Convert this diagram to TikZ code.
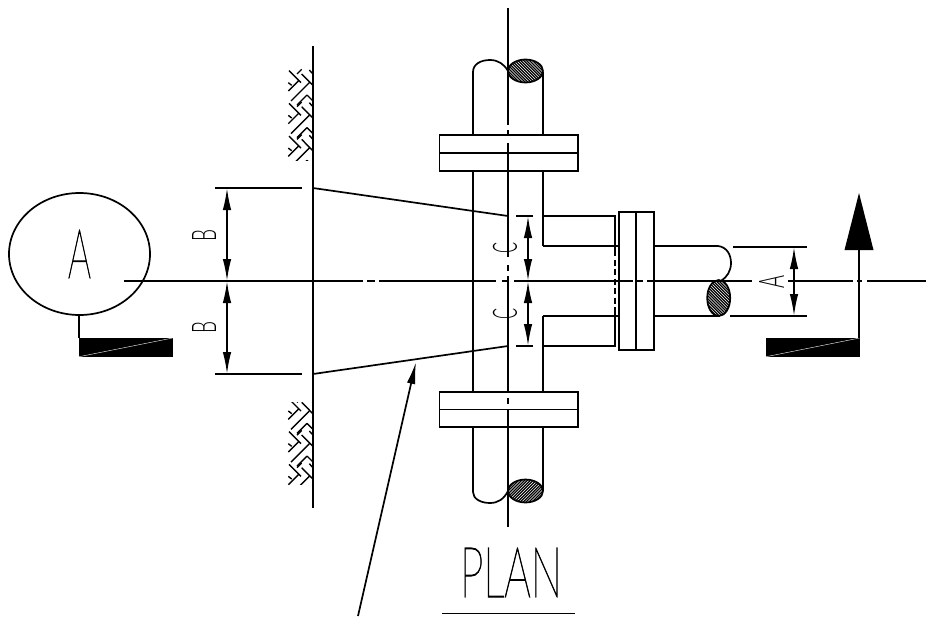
\documentclass[tikz,border=0pt]{standalone}
\usepackage{fontspec}
\usepackage{graphicx}
\usetikzlibrary{arrows.meta}
\newfontfamily\cadfont{Lato Light}
\font\cadthin="Lato Thin:embolden=1.6" at 10pt
\tikzset{
  x=1pt,y=-1pt,
  ln/.style={line width=1.7pt,line cap=butt,black},
  hat/.style={line width=1.4pt,black},
  lbl/.style={inner sep=0pt,outer sep=0pt,font=\cadthin},
  dimarrow/.style={ln,{Latex[length=22pt,width=8.5pt]}-{Latex[length=22pt,width=8.5pt]}},
  leader/.style={ln,-{Latex[length=22pt,width=8.5pt]}}
}
% one row of the herringbone earth hatch, shifted down by #1
\newcommand{\hatchrow}[1]{%
  \begin{scope}[yshift=-#1pt]
    \draw[hat] (289,70.7)--(301,82.7) (297,74)--(301.7,69.3) (309.3,70)--(313,74)
      (301.7,74)--(313,85.5) (288.3,91)--(298.8,80.5) (288.3,82.7)--(291.7,85.3)
      (291,101)--(309.85,82.15) (307,95)--(313,101) (297,105)--(307,95);
  \end{scope}}
% hatched ellipse: centre, radii, direction (+1 or -1)
\newcommand{\hatchell}[5]{%
  \begin{scope}
    \clip (#1,#2) ellipse [x radius=#3,y radius=#4];
    \foreach \k in {-14,...,14}
      \draw[line width=1.25pt] ({#1+\k*2.9-25*#5},#2-25)--({#1+\k*2.9+25*#5},#2+25);
  \end{scope}
  \draw[ln] (#1,#2) ellipse [x radius=#3,y radius=#4];}
\begin{document}
\begin{tikzpicture}
\useasboundingbox (0,0) rectangle (926,616);
\fill[white] (0,0) rectangle (926,616);

% wall
\begin{scope}
  \clip (287,68) rectangle (313,160);
  \foreach \r in {0,32.7,65.4} {\hatchrow{\r}}
\end{scope}
\begin{scope}
  \clip (287,402) rectangle (313,484);
  \foreach \r in {328.3,361,393.7} {\hatchrow{\r}}
\end{scope}
\draw[ln] (313,46)--(313,508);

% centre lines
\draw[ln] (124,281)--(363,281) (367,281)--(375,281) (379,281)--(496,281) (502,281)--(508,281)
  (514,281)--(633,281) (637,281)--(643,281) (647,281)--(752,281)
  (788,281)--(853,281) (857,281)--(862,281) (867,281)--(926,281);
\draw[ln] (508,8)--(508,125) (508,130)--(508,136) (508,143)--(508,257) (508,265)--(508,271)
  (508,276)--(508,393) (508,398)--(508,404) (508,409)--(508,527);

% vertical pipe
\draw[ln] (473,135)--(473,72) .. controls (473,64) and (481,60) .. (490,60)
  .. controls (498,60) and (504,64) .. (508,71);
\draw[ln] (543,135)--(543,72);
\draw[ln] (473,171)--(473,392) (543,171)--(543,246) (543,316)--(543,392);
\draw[ln] (473,427)--(473,492) .. controls (473,499) and (481,503) .. (490,503)
  .. controls (498,503) and (504,499) .. (508,491);
\draw[ln] (543,427)--(543,491);
\hatchell{525.5}{71}{17.5}{11.5}{1}
\hatchell{525.5}{491}{17.5}{11.5}{-1}

% flanges on vertical pipe
\draw[ln] (439.5,135) rectangle (578,171) (439.5,153)--(578,153);
\draw[ln] (439.5,392) rectangle (578,427) (439.5,409.5)--(578,409.5);

% branch
\draw[ln] (543,216)--(615,216)--(615,250) (543,246)--(619,246);
\draw[ln] (543,316)--(619,316) (543,346)--(615,346)--(615,312);
\draw[ln,dash pattern=on 6pt off 3.5pt] (615,250)--(615,312);
\draw[ln] (619,212) rectangle (654,350) (636,212)--(636,350);

% right pipe
\draw[ln] (654,246)--(718,246) .. controls (727,247) and (731,255) .. (731,263)
  .. controls (731,271) and (727,277) .. (721,281);
\draw[ln] (654,316)--(720,316);
\hatchell{718.7}{298}{11.5}{18}{1}

% taper
\draw[ln] (313,188)--(508,216) (313,374)--(508,346);

% dimension B
\draw[ln] (215,188)--(302,188) (215,281)--(302,281) (215,374)--(302,374);
\draw[dimarrow] (227,188)--(227,281);
\draw[dimarrow] (227,281)--(227,374);
\node[lbl,rotate=90,font=\cadfont] (b1) at (204,235) {\resizebox{12pt}{24pt}{B}};
\node[lbl,rotate=90,font=\cadfont] (b2) at (204,327.5) {\resizebox{12pt}{24pt}{B}};

% dimension C
\draw[ln] (516,216)--(533,216) (516,346)--(533,346);
\draw[dimarrow] (528,216)--(528,281);
\draw[dimarrow] (528,281)--(528,346);
\node[lbl,rotate=90,font=\cadfont] (c1) at (505,248) {\resizebox{11pt}{24pt}{C}};
\node[lbl,rotate=90,font=\cadfont] (c2) at (505,313.5) {\resizebox{11pt}{24pt}{C}};

% dimension A
\draw[ln] (733,247)--(807,247) (730,316)--(807,316);
\draw[dimarrow] (794,247)--(794,316);
\node[lbl,rotate=90,font=\cadfont] (a2) at (771.5,282) {\resizebox{13pt}{25pt}{A}};

% section marker left
\draw[ln] (79.5,254) ellipse [x radius=70.5,y radius=61];
\node[lbl] (a1) at (79.5,254) {\resizebox{23pt}{48pt}{A}};
\draw[ln] (79,315)--(79,338);
\fill[black] (79,338) rectangle (172.5,356.7);
\draw[white,line width=.4pt] (79,356.7)--(172.5,338);

% section marker right
\fill[black] (766,338) rectangle (859.5,356.7);
\draw[white,line width=.4pt] (766,356.7)--(859.5,338);
\draw[ln] (859,338)--(859,245);
\fill[black] (859,193)--(873.5,250)--(844.5,250)--cycle;

% leader
\coordinate (ldA) at (358,616);
\coordinate (ldB) at (416,362);
\draw[leader] (ldA)--(ldB);

% title
\node[lbl] (plan) at (511,572.5) {\resizebox{102pt}{49pt}{PLAN}};
\draw[ln] (442,613.5)--(575,613.5);
\end{tikzpicture}
\end{document}
